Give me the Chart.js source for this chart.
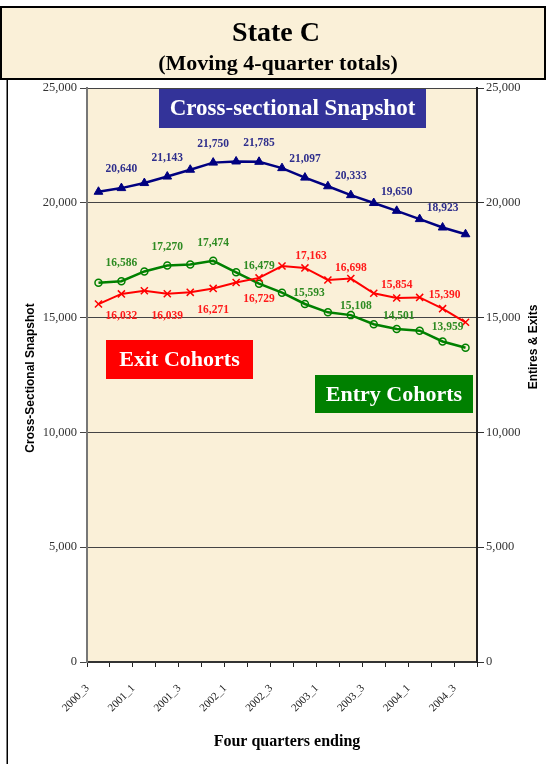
<!DOCTYPE html>
<html><head><meta charset="utf-8">
<script src="https://cdn.jsdelivr.net/npm/chart.js@4.4.1/dist/chart.umd.min.js"></script>
<style>html,body{margin:0;padding:0;background:#fff;}canvas{display:block;}</style>
</head><body>
<canvas id="c" width="548" height="764"></canvas>
<script>
// ---- data ----
const quarters = ['2000_3','2000_4','2001_1','2001_2','2001_3','2001_4','2002_1','2002_2','2002_3','2002_4','2003_1','2003_2','2003_3','2003_4','2004_1','2004_2','2004_3'];
const snapshot = [20480,20640,20860,21143,21440,21750,21800,21785,21510,21097,20720,20333,19990,19650,19290,18923,18630];
const entryCohorts = [16520,16586,17010,17270,17310,17474,16970,16479,16085,15593,15230,15108,14710,14501,14430,13959,13690];
const exitCohorts = [15590,16032,16170,16039,16100,16271,16530,16729,17245,17163,16640,16698,16060,15854,15880,15390,14795];
const axisTicks = [0,5000,10000,15000,20000,25000];

// ---- styles ----
const PARCH = '#FAF0D8';
const SERIF = '"Liberation Serif","DejaVu Serif",serif';
const SANS = '"Liberation Sans","DejaVu Sans",sans-serif';
// label offsets (dx,dy) for labelled (odd) points
const snapLabelOff = [[0,-19],[0,-19],[0,-19],[0,-19],[0,-19],[0,-19],[0,-19],[0,-19]];
const entryLabelOff = [[0,-18],[0,-18],[0,-17.5],[0,-17.5],[4,-11],[5,-9],[2,-13],[5,-14.5]];
const exitLabelOff = [[0,22],[0,22],[0,22],[0,21],[6,-12],[0,-11],[0,-13],[2,-14]];

const fmt = v => v.toLocaleString('en-US');

const decor = {
  id: 'decor',
  beforeDraw(chart) {
    const {ctx, chartArea: a} = chart;
    ctx.save();
    ctx.fillStyle = '#fff';
    ctx.fillRect(0, 0, chart.width, chart.height);
    ctx.fillStyle = PARCH;
    ctx.fillRect(1, 7, 544, 72);
    ctx.lineWidth = 2;
    ctx.strokeStyle = '#000';
    ctx.strokeRect(1, 7, 544, 72);
    ctx.fillStyle = '#000';
    ctx.fillRect(6.5, 80, 1.5, 684);
    ctx.fillStyle = PARCH;
    ctx.fillRect(a.left, a.top, a.right - a.left, a.bottom - a.top);
    ctx.restore();
  },
  afterDatasetsDraw(chart) {
    const ctx = chart.ctx;
    const specs = [
      {vals: snapshot, off: snapLabelOff, color: '#2E2E8C'},
      {vals: exitCohorts, off: exitLabelOff, color: '#FF1A1A'},
      {vals: entryCohorts, off: entryLabelOff, color: '#2E8B22'}
    ];
    ctx.save();
    ctx.font = 'bold 11.5px ' + SERIF;
    ctx.textAlign = 'center';
    ctx.textBaseline = 'middle';
    specs.forEach((s, di) => {
      const meta = chart.getDatasetMeta(di);
      meta.data.forEach((pt, i) => {
        if (i % 2 === 1) {
          const [dx, dy] = s.off[(i - 1) / 2];
          ctx.fillStyle = s.color;
          ctx.fillText(fmt(s.vals[i]), pt.x + dx, pt.y + dy);
        }
      });
    });
    ctx.restore();
  },
  afterDraw(chart) {
    const ctx = chart.ctx;
    ctx.save();
    ctx.textAlign = 'center';
    ctx.textBaseline = 'alphabetic';
    ctx.fillStyle = '#000';
    ctx.font = 'bold 28px ' + SERIF;
    ctx.fillText('State C', 276, 41);
    ctx.font = 'bold 22px ' + SERIF;
    ctx.fillText('(Moving 4-quarter totals)', 278, 70);
    ctx.font = 'bold 16px ' + SERIF;
    ctx.textBaseline = 'middle';
    ctx.fillText('Four quarters ending', 287, 742);

    // series tag boxes
    const boxes = [
      {x: 159, y: 89, w: 267, h: 39, bg: '#333399', text: 'Cross-sectional Snapshot', size: 23},
      {x: 106, y: 340, w: 147, h: 39, bg: '#FF0000', text: 'Exit Cohorts', size: 22},
      {x: 315, y: 375, w: 158, h: 38, bg: '#008000', text: 'Entry Cohorts', size: 22}
    ];
    boxes.forEach(b => {
      ctx.fillStyle = b.bg;
      ctx.fillRect(b.x, b.y, b.w, b.h);
      ctx.fillStyle = '#fff';
      ctx.font = 'bold ' + b.size + 'px ' + SERIF;
      ctx.fillText(b.text, b.x + b.w / 2, b.y + b.h / 2 + 1);
    });

    // axis titles
    ctx.fillStyle = '#000';
    ctx.font = 'bold 12px ' + SANS;
    ctx.save();
    ctx.translate(31, 378);
    ctx.rotate(-Math.PI / 2);
    ctx.fillText('Cross-Sectional Snapshot', 0, 0);
    ctx.restore();
    ctx.save();
    ctx.translate(534, 347);
    ctx.rotate(-Math.PI / 2);
    ctx.fillText('Entires & Exits', 0, 0);
    ctx.restore();
    ctx.restore();
  }
};

const yTickFont = {family: SERIF, size: 12.5};

new Chart(document.getElementById('c'), {
  type: 'line',
  data: {
    labels: quarters,
    datasets: [
      {label: 'Cross-sectional Snapshot', data: snapshot, yAxisID: 'y',
       borderColor: '#000080', backgroundColor: '#000080', borderWidth: 2.5,
       pointStyle: 'triangle', pointRadius: 5, pointBorderWidth: 1,
       pointBackgroundColor: '#000080', pointBorderColor: '#000080', tension: 0},
      {label: 'Exit Cohorts', data: exitCohorts, yAxisID: 'y1',
       borderColor: '#FF0000', backgroundColor: '#FF0000', borderWidth: 2,
       pointStyle: 'crossRot', pointRadius: 5, pointBorderWidth: 1.5,
       pointBorderColor: '#FF0000', tension: 0},
      {label: 'Entry Cohorts', data: entryCohorts, yAxisID: 'y1',
       borderColor: '#008000', backgroundColor: 'rgba(0,0,0,0)', borderWidth: 2.5,
       pointStyle: 'circle', pointRadius: 3.5, pointBorderWidth: 1.5,
       pointBorderColor: '#008000', pointBackgroundColor: 'rgba(0,0,0,0)', tension: 0}
    ]
  },
  options: {
    responsive: false,
    animation: false,
    devicePixelRatio: 1,
    layout: {padding: {top: 88, left: 0, right: 0, bottom: 0}},
    plugins: {legend: {display: false}, title: {display: false}, tooltip: {enabled: false}},
    scales: {
      x: {
        type: 'category',
        offset: true,
        grid: {display: true, offset: true, drawOnChartArea: false, drawTicks: true, tickLength: 5, color: '#222', lineWidth: 1},
        border: {display: true, color: '#333', width: 2},
        ticks: {
          autoSkip: false, minRotation: 45, maxRotation: 45, padding: 15, labelOffset: -11,
          color: '#222', font: {family: SERIF, size: 11},
          callback: (v, i) => (i % 2 === 0 ? quarters[i] : '')
        },
        afterFit: s => { s.height = 102; }
      },
      y: {
        position: 'left', min: 0, max: 25000,
        afterBuildTicks: s => { s.ticks = axisTicks.map(v => ({value: v})); },
        grid: {drawOnChartArea: true, drawTicks: true, tickLength: 7, color: '#444', lineWidth: 1},
        border: {display: true, color: '#777', width: 2},
        ticks: {padding: 3, color: '#333', font: yTickFont, callback: v => fmt(v)},
        afterFit: s => { s.width = 87; }
      },
      y1: {
        position: 'right', min: 0, max: 25000,
        afterBuildTicks: s => { s.ticks = axisTicks.map(v => ({value: v})); },
        grid: {drawOnChartArea: false, drawTicks: true, tickLength: 7, color: '#333', lineWidth: 1},
        border: {display: true, color: '#222', width: 2},
        ticks: {padding: 2, color: '#333', font: yTickFont, callback: v => fmt(v)},
        afterFit: s => { s.width = 71; }
      }
    }
  },
  plugins: [decor]
});
</script>
</body></html>
